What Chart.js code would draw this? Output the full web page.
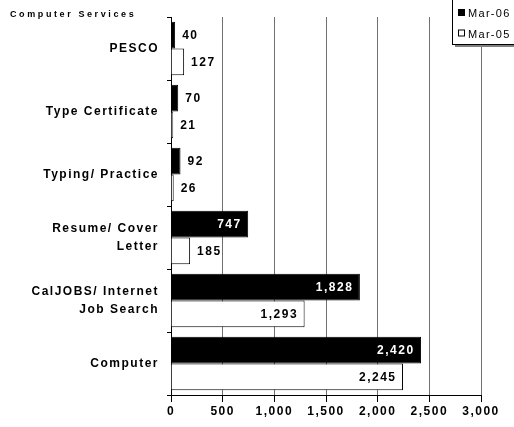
<!DOCTYPE html>
<html>
<head>
<meta charset="utf-8">
<script src="https://cdn.jsdelivr.net/npm/chart.js@4/dist/chart.umd.min.js"></script>
<style>
    html, body { margin: 0; padding: 0; background: #fff; }
</style>
</head>
<body>
<canvas id="servicesChart" width="514" height="427"></canvas>
<script>
// Categories (top to bottom) and the two months
const categories = ["PESCO", "Type Certificate", "Typing/ Practice", ["Resume/ Cover", "Letter"], ["CalJOBS/ Internet", "Job Search"], "Computer"];
const mar06 = [40, 70, 92, 747, 1828, 2420];
const mar05 = [127, 21, 26, 185, 1293, 2245];
const seriesNames = ["Mar-06", "Mar-05"];
const xTicks = [0, 500, 1000, 1500, 2000, 2500, 3000];
const heading = "Computer Services";

const FONT = "'Liberation Sans', Arial, sans-serif";
Chart.defaults.font.family = FONT;
Chart.defaults.color = "#000";

// Wide letter spacing like the original print export
const spacing = {
    id: "spacing",
    beforeDraw(chart) {
        chart.ctx.letterSpacing = "1.5px";
    }
};

// Value labels: inside the bar end when it fits, otherwise just past it
const valueLabels = {
    id: "valueLabels",
    afterDatasetsDraw(chart) {
        const ctx = chart.ctx;
        ctx.save();
        ctx.font = "bold 12px " + FONT;
        ctx.letterSpacing = "1.5px";
        ctx.textBaseline = "middle";
        chart.data.datasets.forEach((ds, i) => {
            const meta = chart.getDatasetMeta(i);
            meta.data.forEach((bar, j) => {
                const text = ds.data[j].toLocaleString("en-US");
                const w = ctx.measureText(text).width;
                if (bar.x - bar.base > w + 14) {
                    ctx.fillStyle = i === 0 ? "#fff" : "#000";
                    ctx.textAlign = "right";
                    ctx.fillText(text, bar.x - 6.5, bar.y + 1);
                } else {
                    ctx.fillStyle = "#000";
                    ctx.textAlign = "left";
                    ctx.fillText(text, bar.x + 7, bar.y + 1);
                }
            });
        });
        ctx.restore();
    }
};

// Heading top left and the boxed legend top right
const extras = {
    id: "extras",
    afterDraw(chart) {
        const ctx = chart.ctx;
        ctx.save();
        ctx.font = "bold 9px " + FONT;
        ctx.letterSpacing = "2.6px";
        ctx.fillStyle = "#000";
        ctx.textBaseline = "middle";
        ctx.textAlign = "left";
        ctx.fillText(heading, 10, 15);

        // legend box with a small shadow
        ctx.fillStyle = "#808080";
        ctx.fillRect(455, 2, 62, 45);
        ctx.fillStyle = "#fff";
        ctx.fillRect(452.5, 0, 62, 44.5);
        ctx.strokeStyle = "#000";
        ctx.lineWidth = 1;
        ctx.strokeRect(452.5, -1, 62, 45.5);

        ctx.font = "11px " + FONT;
        ctx.letterSpacing = "1.3px";
        chart.data.datasets.forEach((ds, i) => {
            const y = 13 + i * 20.5;
            ctx.fillStyle = ds.backgroundColor;
            ctx.fillRect(458.5, y - 3.5, 6, 6);
            ctx.strokeStyle = "#000";
            ctx.strokeRect(458.5, y - 3.5, 6, 6);
            ctx.fillStyle = "#000";
            ctx.fillText(ds.label, 468, y + 1);
        });
        ctx.restore();
    }
};

const ctx = document.getElementById("servicesChart").getContext("2d");
new Chart(ctx, {
    type: "bar",
    data: {
        labels: categories,
        datasets: [
            {
                label: seriesNames[0],
                data: mar06,
                backgroundColor: "#000",
                borderColor: "#000",
                borderWidth: 1
            },
            {
                label: seriesNames[1],
                data: mar05,
                backgroundColor: "#fff",
                borderColor: "#000",
                borderWidth: 1
            }
        ]
    },
    options: {
        indexAxis: "y",
        responsive: false,
        animation: false,
        layout: {
            padding: { top: 15, right: 33, bottom: 0, left: 0 }
        },
        datasets: {
            bar: { categoryPercentage: 0.85, barPercentage: 1 }
        },
        plugins: {
            legend: { display: false },
            tooltip: { enabled: false }
        },
        scales: {
            x: {
                min: 0,
                max: 3000,
                afterBuildTicks: s => { s.ticks = xTicks.map(v => ({ value: v })); },
                afterFit: s => { s.height = 32; },
                grid: { color: "#707070", tickColor: "#000", tickLength: 7 },
                border: { color: "#000" },
                ticks: {
                    padding: 2,
                    maxRotation: 0,
                    autoSkip: false,
                    callback: v => v.toLocaleString("en-US"),
                    font: { size: 12, weight: "bold" }
                }
            },
            y: {
                offset: true,
                afterFit: s => { s.width = 171; },
                grid: { offset: true, drawOnChartArea: false, tickLength: 4, tickColor: "#000" },
                border: { color: "#000" },
                ticks: {
                    padding: 8,
                    font: { size: 12, weight: "bold", lineHeight: 1.5 }
                }
            }
        }
    },
    plugins: [spacing, valueLabels, extras]
});
</script>
</body>
</html>
